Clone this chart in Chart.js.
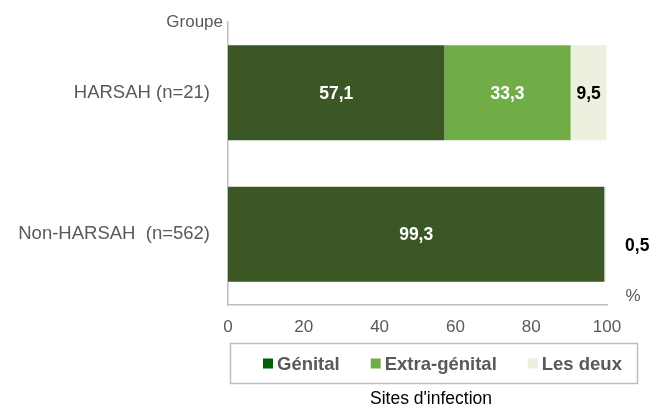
<!DOCTYPE html>
<html lang="fr">
  <head>
    <meta charset="UTF-8" />
    <title>Sites d'infection</title>
    <style>
      * { margin: 0; padding: 0; box-sizing: border-box; }
      body { background: #fff; }
      .wrapper { width: 672px; height: 409px; position: relative; }
    </style>
  </head>
  <body>
    <div class="wrapper">
      <canvas id="chart" width="672" height="409"></canvas>
    </div>

    <script src="https://cdn.jsdelivr.net/npm/chart.js@4/dist/chart.umd.min.js"></script>
    <script>
      // Groups (y axis)
      const groups = ["HARSAH (n=21)", "Non-HARSAH  (n=562)"];

      // Series: % per infection site
      const seriesNames = ["Génital", "Extra-génital", "Les deux"];
      const genital = [57.1, 99.3];
      const extraGenital = [33.3, 0];
      const lesDeux = [9.5, 0.5];

      const xTicks = [0, 20, 40, 60, 80, 100];

      const barColors = ["#3b5726", "#70ad47", "#ebf1de"];
      const legendColors = ["#006100", "#70ad47", "#ebf1de"];
      const labelColors = ["#ffffff", "#ffffff", "#000000"];

      const fmt = (v) => v.toFixed(1).replace(".", ",");
      const FONT = "'Liberation Sans', Arial, sans-serif";

      // value labels on the bars
      const barLabels = {
        id: "barLabels",
        afterDatasetsDraw(chart) {
          const ctx = chart.ctx;
          ctx.save();
          ctx.font = "bold 17.5px " + FONT;
          ctx.textBaseline = "middle";
          ctx.textAlign = "center";
          chart.data.datasets.forEach((ds, di) => {
            chart.getDatasetMeta(di).data.forEach((bar, i) => {
              const v = ds.data[i];
              if (!v) return;
              if (v >= 5) {
                ctx.fillStyle = labelColors[di];
                ctx.fillText(fmt(v), (bar.x + bar.base) / 2, bar.y + 1);
              } else {
                // too thin, put it outside
                ctx.fillStyle = "#000";
                ctx.fillText(fmt(v), bar.x + 31, bar.y + 12);
              }
            });
          });
          ctx.restore();
        },
      };

      // axis captions, legend box and bottom title
      const extras = {
        id: "extras",
        afterDraw(chart) {
          const ctx = chart.ctx;
          const area = chart.chartArea;
          ctx.save();
          ctx.fillStyle = "#595959";
          ctx.font = "17px " + FONT;
          ctx.textBaseline = "middle";
          ctx.textAlign = "right";
          ctx.fillText("Groupe", area.left - 5, 22);
          ctx.textAlign = "center";
          ctx.fillText("%", area.right + 26, 296);

          // legend
          const box = { x: 230.5, y: 343.5, w: 407, h: 40 };
          ctx.strokeStyle = "#bfbfbf";
          ctx.lineWidth = 1.5;
          ctx.strokeRect(box.x, box.y, box.w, box.h);
          ctx.font = "bold 18.5px " + FONT;
          ctx.textAlign = "left";
          let x = 263;
          const cy = box.y + box.h / 2;
          seriesNames.forEach((name, i) => {
            ctx.fillStyle = legendColors[i];
            ctx.fillRect(x, cy - 5, 10, 10);
            x += 14;
            ctx.fillStyle = "#595959";
            ctx.fillText(name, x, cy + 1);
            x += ctx.measureText(name).width + 31;
          });

          ctx.fillStyle = "#000";
          ctx.font = "17.5px " + FONT;
          ctx.textAlign = "center";
          ctx.fillText("Sites d'infection", 431, 399);
          ctx.restore();
        },
      };

      new Chart(document.getElementById("chart"), {
        type: "bar",
        plugins: [barLabels, extras],
        data: {
          labels: groups,
          datasets: [
            { label: seriesNames[0], data: genital, backgroundColor: barColors[0] },
            { label: seriesNames[1], data: extraGenital, backgroundColor: barColors[1] },
            { label: seriesNames[2], data: lesDeux, backgroundColor: barColors[2] },
          ],
        },
        options: {
          indexAxis: "y",
          responsive: false,
          animation: false,
          categoryPercentage: 1,
          barPercentage: 0.67,
          layout: { padding: { top: 22, right: 65, left: 0, bottom: 0 } },
          plugins: {
            legend: { display: false },
            tooltip: { enabled: false },
          },
          scales: {
            x: {
              stacked: true,
              min: 0,
              max: 100,
              afterBuildTicks: (axis) => {
                axis.ticks = xTicks.map((v) => ({ value: v }));
              },
              afterFit: (axis) => {
                axis.height = 104;
                axis.paddingLeft = 0;
                axis.paddingRight = 0;
              },
              grid: { display: false, drawTicks: false },
              border: { display: true, color: "#bfbfbf", width: 1.5 },
              ticks: {
                padding: 12,
                color: "#595959",
                font: { family: FONT, size: 17 },
              },
            },
            y: {
              stacked: true,
              afterFit: (axis) => {
                axis.width = 228;
                axis.paddingTop = 0;
                axis.paddingBottom = 0;
              },
              grid: { display: false, drawTicks: false },
              border: { display: true, color: "#bfbfbf", width: 1.5 },
              ticks: {
                padding: 18,
                color: "#595959",
                font: { family: FONT, size: 18.5 },
              },
            },
          },
        },
      });
    </script>
  </body>
</html>
